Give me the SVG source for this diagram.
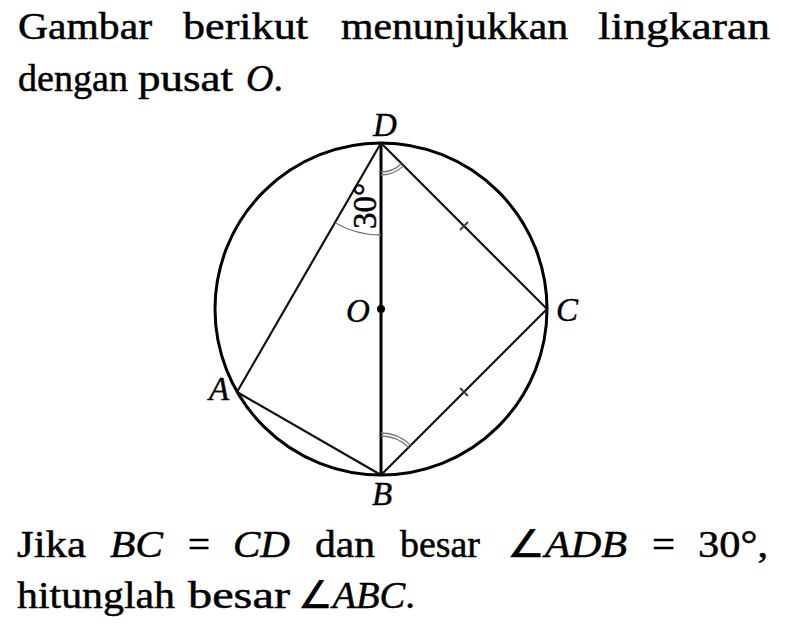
<svg xmlns="http://www.w3.org/2000/svg" width="790" height="644" viewBox="0 0 790 644">
<style>
.t{font-family:'Liberation Serif',Tinos,'Times New Roman',serif;font-size:38px;fill:#000;stroke:#000;stroke-width:0.5}
.i{font-style:italic}
.lb{font-family:'Liberation Serif',Tinos,'Times New Roman',serif;font-size:33px;font-style:italic;fill:#000;stroke:#000;stroke-width:0.4;text-anchor:middle}
.chord{stroke:#111;stroke-width:2.2;fill:none;stroke-linecap:round}
.arc{stroke:#777;stroke-width:1.3;fill:none}
.tick{stroke:#444;stroke-width:2;fill:none}
</style>
<rect width="790" height="644" fill="#fff"/>
<g id="text-top">
<text class="t" x="18" y="39" textLength="134" lengthAdjust="spacingAndGlyphs">Gambar</text>
<text class="t" x="183" y="39" textLength="125" lengthAdjust="spacingAndGlyphs">berikut</text>
<text class="t" x="341" y="39" textLength="227" lengthAdjust="spacingAndGlyphs">menunjukkan</text>
<text class="t" x="598" y="39" textLength="172" lengthAdjust="spacingAndGlyphs">lingkaran</text>
<text class="t" x="18" y="91" textLength="110" lengthAdjust="spacingAndGlyphs">dengan</text>
<text class="t" x="138" y="91" textLength="95" lengthAdjust="spacingAndGlyphs">pusat</text>
<text class="t" x="246" y="91"><tspan class="i">O</tspan>.</text>
</g>
<g id="circle">
<circle cx="381" cy="309" r="166" fill="none" stroke="#000" stroke-width="3"/>
</g>
<g id="connectors">
<line x1="381" y1="143" x2="381" y2="475" stroke="#000" stroke-width="3"/>
<line class="chord" x1="381" y1="143" x2="237" y2="392"/>
<line class="chord" x1="237" y1="392" x2="381" y2="475"/>
<line class="chord" x1="381" y1="143" x2="547" y2="309"/>
<line class="chord" x1="547" y1="309" x2="381" y2="475"/>
<path class="arc" d="M335,222.7 A92,92 0 0 0 381,235"/>
<path class="arc" d="M381,172 A29,29 0 0 0 401.5,163.5"/>
<path class="arc" d="M381,175 A32,32 0 0 0 403.6,165.6"/>
<path class="arc" d="M381,436 A39,39 0 0 1 408.6,447.4"/>
<path class="arc" d="M381,433 A42,42 0 0 1 410.7,445.3"/>
<line class="tick" x1="460" y1="230" x2="468" y2="222"/>
<line class="tick" x1="460" y1="388" x2="468" y2="396"/>
</g>
<g id="node-O">
<circle cx="381" cy="309" r="4" fill="#000"/>
<text class="lb" x="358" y="322">O</text>
</g>
<g id="node-D"><text class="lb" x="385" y="136">D</text></g>
<g id="node-C"><text class="lb" x="567" y="321">C</text></g>
<g id="node-A"><text class="lb" x="219" y="400">A</text></g>
<g id="node-B"><text class="lb" x="382" y="505">B</text></g>
<g id="angle-label">
<text class="t" transform="translate(376,206) rotate(-90)" style="font-size:33px;text-anchor:middle">30°</text>
</g>
<g id="text-bottom">
<text class="t" x="17" y="557" textLength="69" lengthAdjust="spacingAndGlyphs">Jika</text>
<text class="t i" x="110" y="557" textLength="53" lengthAdjust="spacingAndGlyphs">BC</text>
<text class="t" x="188" y="557" textLength="22" lengthAdjust="spacingAndGlyphs">=</text>
<text class="t i" x="233" y="557" textLength="57" lengthAdjust="spacingAndGlyphs">CD</text>
<text class="t" x="315" y="557" textLength="60" lengthAdjust="spacingAndGlyphs">dan</text>
<text class="t" x="400" y="557" textLength="80" lengthAdjust="spacingAndGlyphs">besar</text>
<text class="t" x="507" y="557" textLength="120" lengthAdjust="spacingAndGlyphs">∠<tspan class="i">ADB</tspan></text>
<text class="t" x="652" y="557" textLength="23" lengthAdjust="spacingAndGlyphs">=</text>
<text class="t" x="698" y="557" textLength="70" lengthAdjust="spacingAndGlyphs">30°,</text>
<text class="t" x="17" y="608" textLength="158" lengthAdjust="spacingAndGlyphs">hitunglah</text>
<text class="t" x="188" y="608" textLength="102" lengthAdjust="spacingAndGlyphs">besar</text>
<text class="t" x="298" y="608" textLength="117" lengthAdjust="spacingAndGlyphs">∠<tspan class="i">ABC</tspan>.</text>
</g>
</svg>
